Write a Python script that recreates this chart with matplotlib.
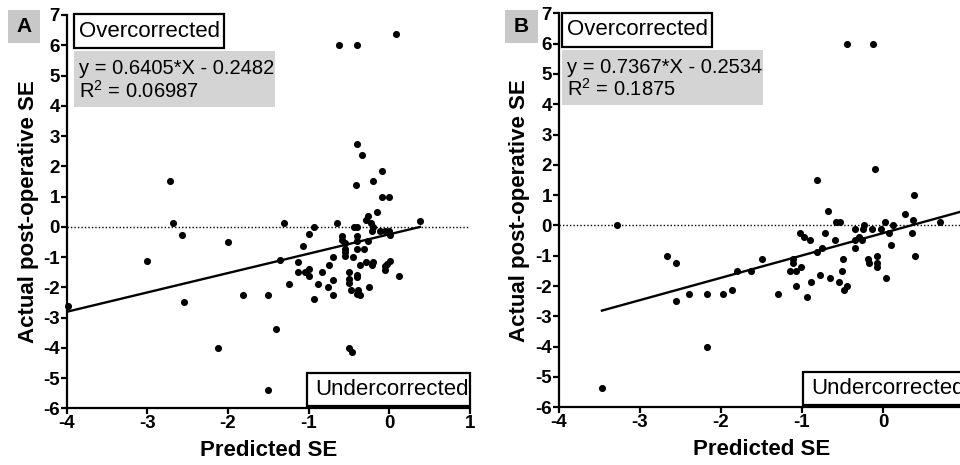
import matplotlib
matplotlib.use("Agg")
import matplotlib.pyplot as plt
from matplotlib.patches import Rectangle
import numpy as np

plt.rcParams['font.family'] = ['Liberation Sans', 'DejaVu Sans']
plt.rcParams['mathtext.fontset'] = 'custom'
plt.rcParams['mathtext.rm'] = 'Liberation Sans'

# ---- Panel A data ----
predA = [0.08, -0.62, -0.40, -0.40, -0.34, -0.09, -0.20, -0.41, -0.095, -0.01,
         -0.15, -2.72, -2.68, -2.57, -1.30, -0.93, -0.645, 0.38, -3.01, -2.00,
         -3.99, -2.55, -1.81, -1.50, -1.40, -2.12, -0.50, -0.46, -1.50, -0.26,
         -0.29, -0.44, -0.40, -0.23, -0.20, -0.115, -0.05, 0.00, 0.01, -0.22,
         -1.00, -0.59, -0.59, -0.40, -0.40, -0.26, -0.55, -0.55, -0.55, -0.55,
         -0.405, -0.32, -1.07, -1.36, -1.13, -0.70, -0.455, -0.36, -0.29, -0.20,
         -0.22, 0.01, -0.03, -0.06, -0.06, -1.13, -1.05, -1.00, -1.00, -0.84,
         -0.745, -0.50, -0.50, -0.50, -0.40, -0.40, 0.12, -1.24, -0.88, -0.695,
         -0.76, -0.70, -0.47, -0.385, -0.36, -0.40, -0.25, -0.93]
actA = [6.37, 6.00, 6.00, 2.74, 2.37, 1.86, 1.50, 1.37, 1.00, 1.00,
        0.50, 1.50, 0.13, -0.26, 0.12, 0.00, 0.12, 0.18, -1.12, -0.51,
        -2.63, -2.50, -2.26, -2.26, -3.38, -4.00, -4.00, -4.14, -5.39, 0.36,
        0.23, 0.00, 0.00, 0.12, 0.00, -0.15, -0.15, -0.15, -0.26, -0.15,
        -0.24, -0.30, -0.43, -0.32, -0.48, -0.48, -0.54, -0.74, -0.85, -0.98,
        -0.74, -0.74, -0.62, -1.11, -1.15, -1.01, -1.01, -1.26, -1.15, -1.15,
        -1.26, -1.12, -1.22, -1.31, -1.42, -1.48, -1.48, -1.39, -1.62, -1.51,
        -1.26, -1.48, -1.72, -1.86, -1.58, -1.66, -1.64, -1.89, -1.89, -1.75,
        -1.99, -2.27, -2.10, -2.10, -2.25, -2.21, -2.00, -2.38]
fitA = (0.6405, -0.2482)
textA = ["y = 0.6405*X - 0.2482", "R$^{2}$ = 0.06987"]

# ---- Panel B data ----
predB = [-0.45, -0.12, -0.10, -0.82, 0.38, -0.68, 0.27, 0.37, 0.70, -0.58,
         -0.53, 0.02, 0.12, -0.23, -3.28, -0.35, -0.25, -0.14, -0.02, -0.71,
         0.07, 0.36, -1.02, -0.97, -0.90, -0.59, -0.35, -0.26, -0.30, 0.10,
         -0.35, -0.75, -0.81, -0.07, 0.40, -2.67, -0.49, -0.19, -0.17, -0.07,
         -0.07, -1.11, -1.11, -1.01, -1.50, -2.55, -1.80, -1.63, -1.15, -1.07,
         -0.51, -0.78, -0.66, 0.04, -0.89, -0.54, -1.08, -0.45, -0.48, -1.87,
         -2.39, -2.17, -1.98, -1.30, -0.94, -2.55, -2.17, -3.47]
actB = [5.98, 5.98, 1.87, 1.49, 1.00, 0.49, 0.37, 0.19, 0.13, 0.13,
        0.13, 0.13, 0.00, 0.00, 0.00, -0.12, -0.12, -0.12, -0.12, -0.24,
        -0.24, -0.24, -0.24, -0.37, -0.49, -0.49, -0.49, -0.49, -0.37, -0.63,
        -0.75, -0.75, -0.87, -1.00, -1.00, -1.00, -1.12, -1.12, -1.25, -1.25,
        -1.37, -1.12, -1.25, -1.37, -1.12, -1.25, -1.49, -1.49, -1.49, -1.49,
        -1.49, -1.62, -1.75, -1.75, -1.88, -1.88, -2.00, -2.00, -2.13, -2.13,
        -2.25, -2.25, -2.25, -2.25, -2.37, -2.50, -4.00, -5.37]
fitB = (0.7367, -0.2534)
textB = ["y = 0.7367*X - 0.2534", "R$^{2}$ = 0.1875"]

xticks = [-4, -3, -2, -1, 0, 1]
yticks = list(range(-6, 8))
xlabel = "Predicted SE"
ylabel = "Actual post-operative SE"

fig = plt.figure(figsize=(9.6, 4.65), dpi=100)

W, H = 960.0, 465.0


def make_panel(rect_px, pred, act, fit, fit_xmax, eqtext, letter, letter_px,
               over_box, eq_box, under_box, ylab_x):
    l, t, r, b = rect_px
    ax = fig.add_axes([l / W, (H - b) / H, (r - l) / W, (b - t) / H])
    ax.set_xlim(-4, 1)
    ax.set_ylim(-6, 7)
    ax.axhline(0, color='black', lw=1.0, ls=(0, (1, 1.5)), zorder=1)
    x0 = min(pred)
    xs = np.array([x0, fit_xmax])
    ax.plot(xs, fit[0] * xs + fit[1], color='black', lw=1.7, zorder=2,
            clip_on=True)
    ax.scatter(pred, act, s=26, color='black', zorder=3, clip_on=False,
               linewidths=0)
    for s in ['top', 'right']:
        ax.spines[s].set_visible(False)
    for s in ['left', 'bottom']:
        ax.spines[s].set_linewidth(1.6)
    ax.set_xticks(xticks)
    ax.set_yticks(yticks)
    ax.set_xticklabels([str(v) for v in xticks], fontweight='bold', fontsize=13.5)
    ax.set_yticklabels([str(v) for v in yticks], fontweight='bold', fontsize=13.5)
    ax.tick_params(direction='out', length=4, width=1.6, pad=1)
    ax.set_xlabel(xlabel, fontsize=16, fontweight='bold')
    ax.set_ylabel(ylabel, fontsize=16, fontweight='bold')
    ax.xaxis.set_label_coords(0.5, -0.08)
    ax.yaxis.set_label_coords(ylab_x, 0.5)

    # boxes (axes fraction)
    bx0, bx1, by0, by1 = over_box
    ax.add_patch(Rectangle((bx0, by0), bx1 - bx0, by1 - by0, transform=ax.transAxes,
                           facecolor='white', edgecolor='black', lw=1.6,
                           clip_on=False, zorder=5))
    ax.text(bx0 + 0.012, (by0 + by1) / 2, "Overcorrected", transform=ax.transAxes,
            ha='left', va='center', fontsize=16, zorder=6)
    ex0, ex1, ey0, ey1 = eq_box
    ax.add_patch(Rectangle((ex0, ey0), ex1 - ex0, ey1 - ey0, transform=ax.transAxes,
                           facecolor='#d4d4d4', edgecolor='none',
                           clip_on=False, zorder=5))
    ax.text(ex0 + 0.012, ey1 - 0.045, eqtext[0], transform=ax.transAxes,
            ha='left', va='center', fontsize=14.5, zorder=6)
    ax.text(ex0 + 0.012, ey0 + 0.042, eqtext[1], transform=ax.transAxes,
            ha='left', va='center', fontsize=14.5, zorder=6)
    ux0, ux1, uy0, uy1 = under_box
    ax.add_patch(Rectangle((ux0, uy0), ux1 - ux0, uy1 - uy0, transform=ax.transAxes,
                           facecolor='white', edgecolor='black', lw=1.6,
                           clip_on=False, zorder=5))
    ax.text(ux0 + 0.02, (uy0 + uy1) / 2, "Undercorrected", transform=ax.transAxes,
            ha='left', va='center', fontsize=16, zorder=6)

    # panel letter
    lx0, ly0, lx1, ly1 = letter_px
    fig.patches.append(Rectangle((lx0 / W, (H - ly1) / H), (lx1 - lx0) / W,
                                 (ly1 - ly0) / H, transform=fig.transFigure,
                                 facecolor='#c8c8c8', edgecolor='none', zorder=0))
    fig.text((lx0 + lx1) / 2 / W, (H - (ly0 + ly1) / 2) / H, letter,
             ha='center', va='center', fontsize=15, fontweight='bold')
    return ax


make_panel((66.7, 15, 470, 408.3), predA, actA, fitA, max(predA), textA, "A",
           (8, 10, 40, 43),
           (0.018, 0.390, 0.916, 1.0025),
           (0.018, 0.5165, 0.766, 0.9085),
           (0.596, 1.0, 0.006, 0.0898),
           -0.068)

make_panel((559, 13.3, 964, 407.3), predB, actB, fitB, 1.0, textB, "B",
           (505, 10, 538, 43),
           (0.0074, 0.378, 0.9145, 1.0008),
           (0.0074, 0.504, 0.767, 0.907),
           (0.6025, 1.0, 0.0058, 0.0896),
           -0.071)

fig.savefig("out.png", dpi=100)
